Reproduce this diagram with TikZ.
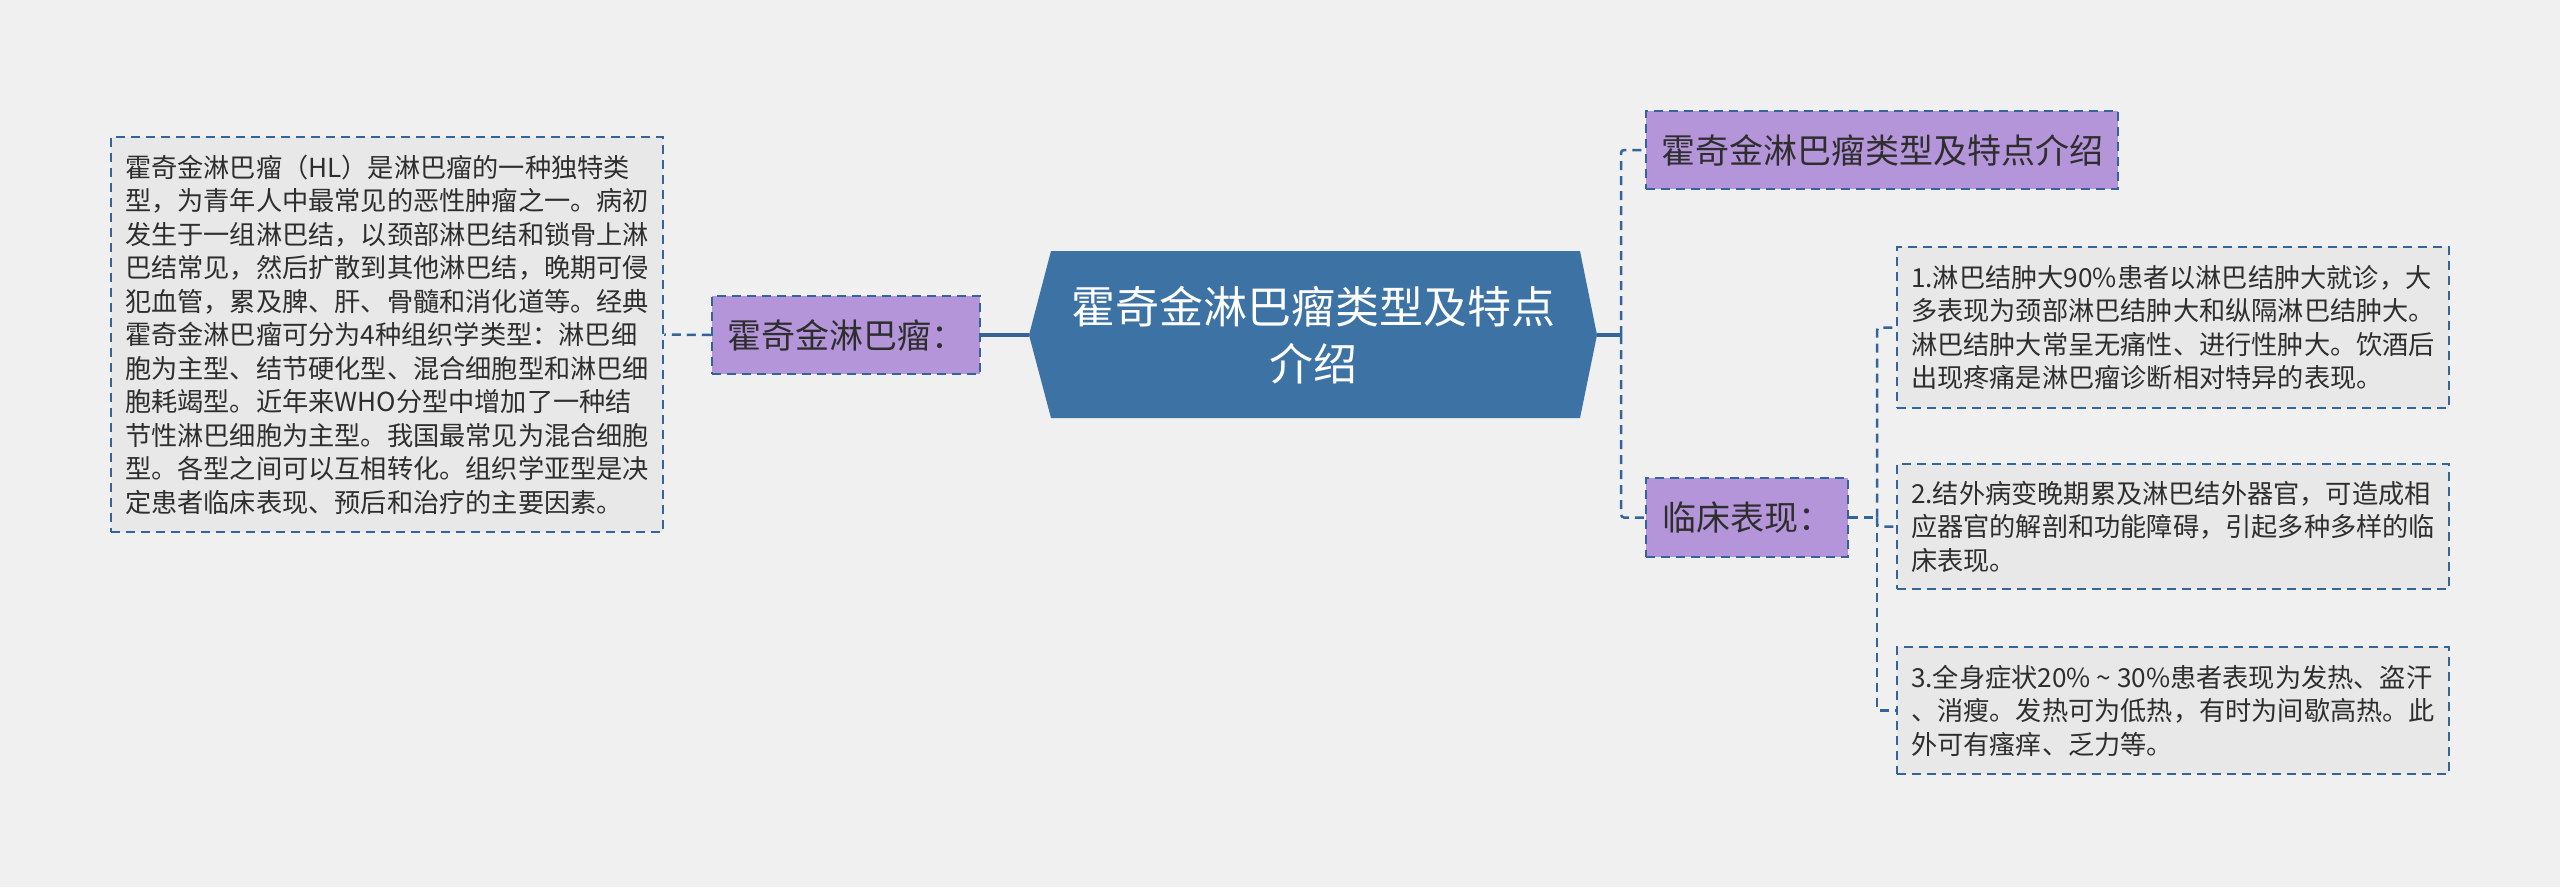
\documentclass[tikz,border=0pt]{standalone}
\usepackage{fontspec}
\setmainfont{Noto Sans CJK SC}

\definecolor{pagebg}{HTML}{F0F0F0}
\definecolor{linkblue}{HTML}{34659A}
\definecolor{rootblue}{HTML}{3D72A5}
\definecolor{tagpurple}{HTML}{B595D9}
\definecolor{notegray}{HTML}{E8E8E8}
\definecolor{inkgray}{HTML}{2E2E2E}

\begin{document}
\begin{tikzpicture}[x=1pt, y=-1pt,
    dashline/.style={draw=linkblue, line width=2.5pt, dash pattern=on 9pt off 6pt},
    tag/.style={dashline, fill=tagpurple, text=inkgray, inner sep=0pt,
        minimum height=78pt, font=\fontsize{34}{40}\selectfont},
    note/.style={dashline, fill=notegray, text=inkgray, inner sep=0pt, align=left,
        minimum width=552pt, font=\fontsize{26.2}{33.5}\selectfont},
    link/.style={dashline, rounded corners=3pt},
    trunk/.style={draw=linkblue, line width=3.5pt}]
    % Page
    \fill[pagebg] (0,0) rectangle (2560,887);
    \useasboundingbox (0,0) rectangle (2560,887);

    % Root
    \fill[rootblue] (1029,335) -- (1051,251) -- (1580,251) -- (1597,335)
        -- (1580,418) -- (1051,418) -- cycle;
    \node[text=white, align=center, inner sep=0pt, minimum width=568pt, minimum height=167pt,
        font=\fontsize{44}{57}\selectfont] (root) at (1313,335) {霍奇金淋巴瘤类型及特点\\介绍};

    % Left branch
    \node[tag, minimum width=268pt] (hl) at (846,335) {霍奇金淋巴瘤：};
    \node[note, minimum height=395pt] (hlnote) at (387,334.5) {%
        霍奇金淋巴瘤（HL）是淋巴瘤的一种独特类\\
        型，为青年人中最常见的恶性肿瘤之一。病初\\
        发生于一组淋巴结，以颈部淋巴结和锁骨上淋\\
        巴结常见，然后扩散到其他淋巴结，晚期可侵\\
        犯血管，累及脾、肝、骨髓和消化道等。经典\\
        霍奇金淋巴瘤可分为4种组织学类型：淋巴细\\
        胞为主型、结节硬化型、混合细胞型和淋巴细\\
        胞耗竭型。近年来WHO分型中增加了一种结\\
        节性淋巴细胞为主型。我国最常见为混合细胞\\
        型。各型之间可以互相转化。组织学亚型是决\\
        定患者临床表现、预后和治疗的主要因素。};

    % Right branch
    \node[tag, minimum width=472pt] (title) at (1882,150) {霍奇金淋巴瘤类型及特点介绍};
    \node[tag, minimum width=202pt, minimum height=79pt] (clinic) at (1747,517.5) {临床表现：};
    \node[note, minimum height=161pt] (sign1) at (2173,327.5) {%
        1.淋巴结肿大90\%患者以淋巴结肿大就诊，大\\
        多表现为颈部淋巴结肿大和纵隔淋巴结肿大。\\
        淋巴结肿大常呈无痛性、进行性肿大。饮酒后\\
        出现疼痛是淋巴瘤诊断相对特异的表现。};
    \node[note, minimum height=125pt] (sign2) at (2173,526.5) {%
        2.结外病变晚期累及淋巴结外器官，可造成相\\
        应器官的解剖和功能障碍，引起多种多样的临\\
        床表现。};
    \node[note, minimum height=127pt] (sign3) at (2173,710.5) {%
        3.全身症状20\% \textasciitilde{} 30\%患者表现为发热、盗汗\\
        、消瘦。发热可为低热，有时为间歇高热。此\\
        外可有瘙痒、乏力等。};

    % Connectors
    \coordinate (rj) at (1621,335);
    \coordinate (cj) at (1877,517.5);
    \draw[trunk] (root.west) -- (hl.east);
    \draw[link] (hl.west) -- (hlnote.east);
    \draw[trunk] (root.east) -- (rj);
    \draw[link] (rj) |- (title.west);
    \draw[link] (rj) |- (clinic.west);
    \draw[link] (clinic.east) -- (cj);
    \draw[link] (cj) |- (sign1.west);
    \draw[link] (cj) |- (sign2.west);
    \draw[link] (cj) |- (sign3.west);
\end{tikzpicture}
\end{document}
